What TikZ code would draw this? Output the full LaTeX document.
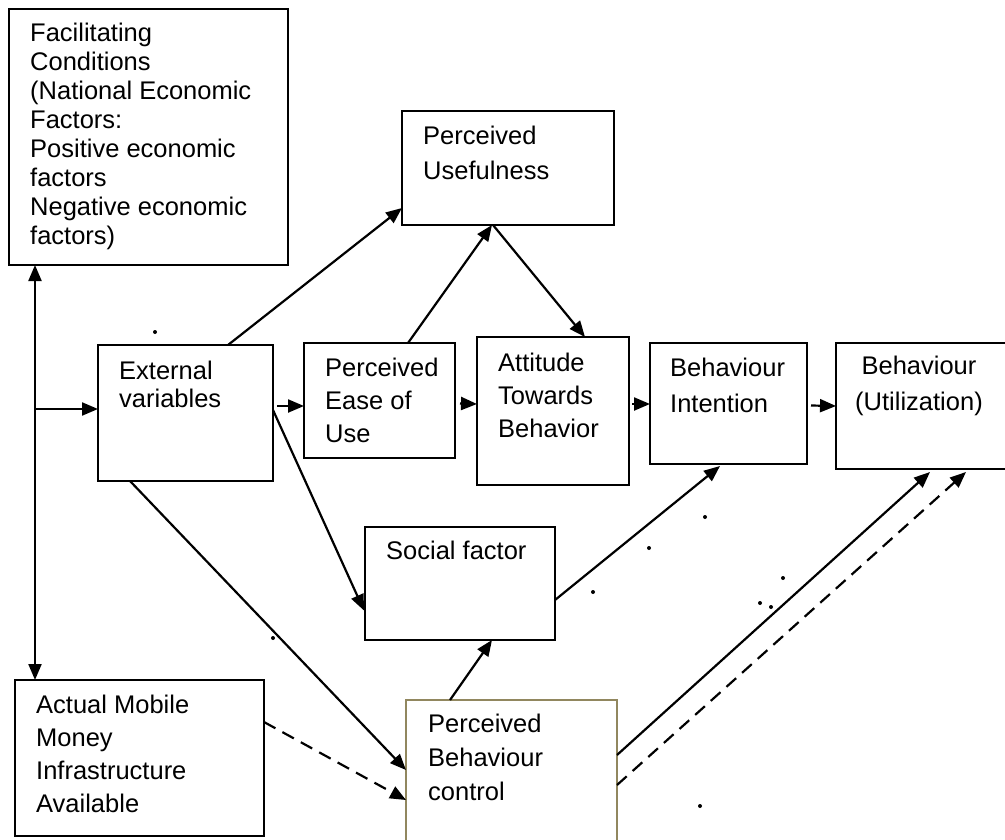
\documentclass[tikz,border=0pt]{standalone}
\usepackage{fontspec}
\setmainfont{Liberation Sans}
\usetikzlibrary{arrows.meta,calc}
\definecolor{pbccol}{RGB}{145,135,95}
\tikzset{
  box/.style={draw=black,line width=2.4pt,anchor=north west,inner sep=0pt,outer sep=0pt},
  txt/.style={anchor=north west,inner sep=0pt,align=left},
  arr/.style={line width=2.2pt,-{Triangle[length=16pt,width=13pt]}},
  dsh/.style={line width=2.2pt,dash pattern=on 13pt off 8pt,-{Triangle[length=16pt,width=13pt]}},
  dot/.style={fill=black,circle,inner sep=0pt,minimum size=4pt}
}
\begin{document}
\begin{tikzpicture}[x=1pt,y=-1pt]
\fill[white] (0,0) rectangle (1005,839);
\useasboundingbox (0,0) rectangle (1005,839);
% boxes
\node[box,minimum width=279pt,minimum height=256pt] (fc) at (9,9) {};
\node[box,minimum width=212pt,minimum height=114pt] (pu) at (402,111) {};
\node[box,minimum width=175pt,minimum height=136pt] (ev) at (98,345) {};
\node[box,minimum width=151pt,minimum height=115pt] (pe) at (304,343) {};
\node[box,minimum width=152pt,minimum height=148pt] (at) at (477,337) {};
\node[box,minimum width=157pt,minimum height=121pt] (bi) at (650,343) {};
\node[box,minimum width=180pt,minimum height=126pt] (bu) at (836,343) {};
\node[box,minimum width=190pt,minimum height=113pt] (sf) at (365,527) {};
\node[box,minimum width=249pt,minimum height=156pt] (am) at (15,680) {};
\node[box,draw=pbccol,minimum width=211pt,minimum height=150pt] (pbc) at (406,700) {};
% texts
\node[txt,font={\fontsize{25.5}{29}\selectfont}] (tfc) at (30,23) {Facilitating\\Conditions\\(National Economic\\Factors:\\Positive economic\\factors\\Negative economic\\factors)};
\node[txt,font={\fontsize{25.5}{35}\selectfont}] (tpu) at (423,126) {Perceived\\Usefulness};
\node[txt,font={\fontsize{25.5}{28}\selectfont}] (tev) at (119,361) {External\\variables};
\node[txt,font={\fontsize{25.5}{33}\selectfont}] (tpe) at (325,358) {Perceived\\Ease of\\Use};
\node[txt,font={\fontsize{25.5}{33}\selectfont}] (tat) at (498,353) {Attitude\\Towards\\Behavior};
\node[txt,font={\fontsize{25.5}{36}\selectfont}] (tbi) at (670,358) {Behaviour\\Intention};
\node[txt,anchor=north,align=center,font={\fontsize{25.5}{36}\selectfont}] (tbu) at (919,356) {Behaviour\\(Utilization)};
\node[txt,font={\fontsize{25.5}{33}\selectfont}] (tsf) at (386,541) {Social factor};
\node[txt,font={\fontsize{25.5}{33}\selectfont}] (tam) at (36,695) {Actual Mobile\\Money\\Infrastructure\\Available};
\node[txt,font={\fontsize{25.5}{34}\selectfont}] (tpbc) at (428,714) {Perceived\\Behaviour\\control};
% junction
\coordinate (j) at (35,409);
\draw[arr] (j) -- (j |- fc.south);
\draw[arr] (j) -- (j |- am.north);
\draw[arr] (j) -- (ev.west |- j);
% connectors
\draw[arr] ($(ev.north west)+(130,0)$) -- ($(pu.south west)+(0,-17)$);
\draw[arr] ($(ev.east)+(4,-7)$) -- ($(pe.west)+(0,5.5)$);
\draw[arr] ($(pe.north west)+(104,0)$) -- ($(pu.south west)+(90,0)$);
\draw[arr] ($(pu.south west)+(91,0)$) -- ($(at.north west)+(108,0)$);
\draw[arr] ($(pe.east)+(5,3)$) -- ($(at.west)+(0,-7)$);
\draw[arr] ($(at.east)+(3,-7)$) -- ($(bi.west)+(0,0.5)$);
\draw[arr] ($(bi.east)+(4,2)$) -- (bu.west);
\draw[arr] ($(ev.east)+(0,-3)$) -- ($(sf.west)+(-1,27)$);
\draw[arr] ($(ev.south west)+(32,0)$) -- ($(pbc.north west)+(0,70)$);
\draw[dsh] ($(am.north east)+(0,42)$) -- ($(pbc.north west)+(0,100)$);
\draw[arr] ($(pbc.north west)+(44,0)$) -- ($(sf.south west)+(127,0)$);
\draw[arr] ($(sf.north east)+(0,73)$) -- ($(bi.south west)+(70,2)$);
\draw[arr] ($(pbc.north east)+(0,55)$) -- ($(bu.south west)+(94,3)$);
\draw[dsh] ($(pbc.north east)+(0,85)$) -- ($(bu.south west)+(130,3)$);
% stray dots
\foreach \p [count=\i] in {(155,332),(273,638),(593,592),(705,517),(649,548),(783,578),(760,603),(771,607),(700,806)}
  \node[dot] (d\i) at \p {};
\end{tikzpicture}
\end{document}
